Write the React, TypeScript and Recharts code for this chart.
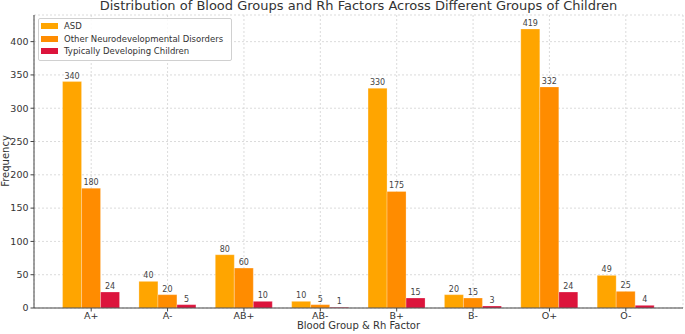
import React from "react";
import { BarChart, Bar, XAxis, YAxis, CartesianGrid, LabelList } from "recharts";

const categories = ["A+", "A-", "AB+", "AB-", "B+", "B-", "O+", "O-"];
const asd = [340, 40, 80, 10, 330, 20, 419, 49];
const otherNDD = [180, 20, 60, 5, 175, 15, 332, 25];
const typical = [24, 5, 10, 1, 15, 3, 24, 4];
const yTicks = [0, 50, 100, 150, 200, 250, 300, 350, 400];

const seriesNames = ["ASD", "Other Neurodevelopmental Disorders", "Typically Developing Children"];
const colors = ["#FFA500", "#FF8C00", "#DC143C"];

const data = categories.map((c, i) => ({
  cat: c,
  asd: asd[i],
  other: otherNDD[i],
  typical: typical[i],
}));

const FONT = "'DejaVu Sans', sans-serif";

const LegendBox = () => (
  <div
    style={{
      position: "absolute",
      left: 38,
      top: 18,
      border: "1px solid #d0d0d0",
      borderRadius: 2,
      background: "rgba(255,255,255,0.85)",
      padding: "1px 8px 2px 2px",
      fontFamily: FONT,
      fontSize: 8.5,
      color: "#333",
      lineHeight: "12.5px",
    }}
  >
    {seriesNames.map((n, i) => (
      <div key={n} style={{ display: "flex", alignItems: "center" }}>
        <span style={{ display: "inline-block", width: 17, height: 6, background: colors[i], marginRight: 6 }} />
        <span>{n}</span>
      </div>
    ))}
  </div>
);

export default function App() {
  return (
    <div style={{ position: "absolute", left: 0, top: 0, width: 685, height: 334, background: "#fff", fontFamily: FONT }}>
      <BarChart
        width={685}
        height={334}
        data={data}
        margin={{ top: 15, right: 2, bottom: 0, left: 0 }}
        barGap={0}
        barCategoryGap="12.5%"
      >
        <XAxis
          dataKey="cat"
          height={26}
          padding={{ left: 19, right: 19 }}
          tick={{ fontSize: 9.5, fill: "#333", fontFamily: FONT }}
          tickSize={3.5}
          tickMargin={1}
          axisLine={{ stroke: "#444" }}
          tickLine={{ stroke: "#444" }}
        />
        <YAxis
          width={34}
          domain={[0, 440]}
          ticks={yTicks}
          interval={0}
          tick={{ fontSize: 9.5, fill: "#333", fontFamily: FONT }}
          tickSize={3.5}
          tickMargin={2}
          axisLine={{ stroke: "#444" }}
          tickLine={{ stroke: "#444" }}
        />
        <Bar dataKey="asd" name={seriesNames[0]} fill={colors[0]} stroke="rgba(255,255,255,0.5)" strokeWidth={0.5} isAnimationActive={false}>
          <LabelList dataKey="asd" position="top" offset={3} style={{ fontSize: 8, fill: "#444", fontFamily: FONT }} />
        </Bar>
        <Bar dataKey="other" name={seriesNames[1]} fill={colors[1]} stroke="rgba(255,255,255,0.5)" strokeWidth={0.5} isAnimationActive={false}>
          <LabelList dataKey="other" position="top" offset={3} style={{ fontSize: 8, fill: "#444", fontFamily: FONT }} />
        </Bar>
        <Bar dataKey="typical" name={seriesNames[2]} fill={colors[2]} stroke="rgba(255,255,255,0.5)" strokeWidth={0.5} isAnimationActive={false}>
          <LabelList dataKey="typical" position="top" offset={3} style={{ fontSize: 8, fill: "#444", fontFamily: FONT }} />
        </Bar>
        <CartesianGrid stroke="#cccccc" strokeOpacity={0.7} strokeDasharray="2 2" />
      </BarChart>
      <div
        style={{
          position: "absolute",
          left: 0,
          top: -2,
          width: 717,
          textAlign: "center",
          fontSize: 13,
          color: "#333",
          whiteSpace: "nowrap",
          lineHeight: "15px",
        }}
      >
        Distribution of Blood Groups and Rh Factors Across Different Groups of Children
      </div>
      <div
        style={{
          position: "absolute",
          left: 34,
          top: 320,
          width: 649,
          textAlign: "center",
          fontSize: 10,
          color: "#333",
          whiteSpace: "nowrap",
          lineHeight: "12px",
        }}
      >
        Blood Group &amp; Rh Factor
      </div>
      <div
        style={{
          position: "absolute",
          left: 6,
          top: 161,
          transform: "translate(-50%, -50%) rotate(-90deg)",
          fontSize: 10,
          color: "#333",
          whiteSpace: "nowrap",
          lineHeight: "12px",
        }}
      >
        Frequency
      </div>
      <LegendBox />
    </div>
  );
}
